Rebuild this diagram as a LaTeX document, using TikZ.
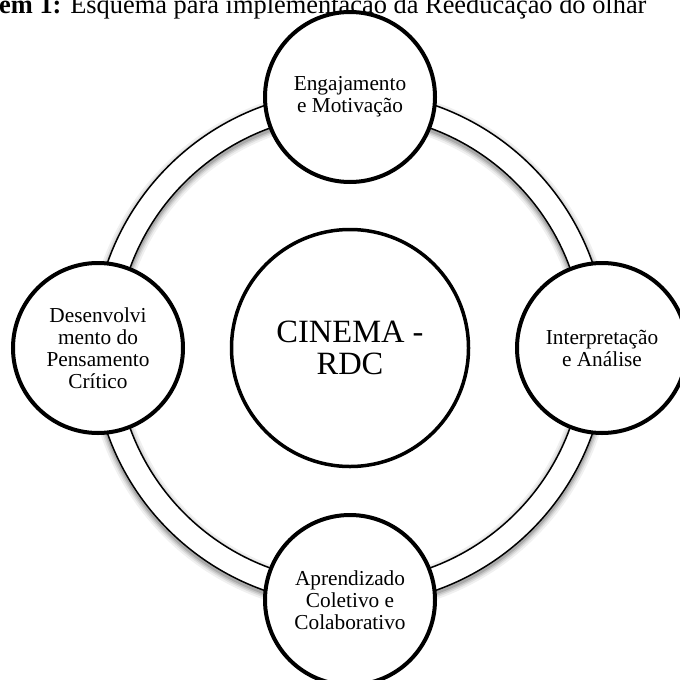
\documentclass[tikz,border=0pt]{standalone}
\usepackage{fontspec}
\setmainfont{Liberation Serif}
\begin{document}
\begin{tikzpicture}[x=1bp,y=-1bp,
  sat/.style={circle, draw=black, line width=4bp, fill=white, minimum size=170bp, inner sep=0pt, align=center, font=\fontsize{21.3bp}{22bp}\selectfont},
  hub/.style={circle, draw=black, line width=3.5bp, fill=white, minimum size=237bp, inner sep=0pt, align=center, font=\fontsize{32.5bp}{32.5bp}\selectfont},
  ringline/.style={line width=1.5bp, draw=black}]
\useasboundingbox (0,0) rectangle (680,680);
\clip (0,0) rectangle (680,680);
\fill[white] (0,0) rectangle (680,680);
\node[anchor=base west, inner sep=0pt, font=\fontsize{26.4bp}{30bp}\selectfont] (title) at (-1,13.3) {\textbf{em 1:} Esquema para implementação da Reeducação do olhar};
\coordinate (c) at (350,348);
% blurred shadow of the ring
\foreach \w/\o in {35/0.06, 31/0.08, 28/0.1, 25/0.14} {
  \draw[line width=\w bp, black, opacity=\o] ([yshift=-3bp]c) circle[radius=245.5];
}
% ring
\path[fill=white, even odd rule] (c) circle[radius=257] (c) circle[radius=234];
\draw[ringline] (c) circle[radius=257];
\draw[ringline] (c) circle[radius=234];
% nodes
\node[hub] (hub) at (c) {CINEMA -\\RDC};
\node[sat] (top) at (350,97) {Engajamento\\e Motivação};
\node[sat] (right) at (602,348) {Interpretação\\e Análise};
\node[sat] (bottom) at (350,600) {Aprendizado\\Coletivo e\\Colaborativo};
\node[sat] (left) at (98,348) {Desenvolvi\\mento do\\Pensamento\\Crítico};
\end{tikzpicture}
\end{document}
